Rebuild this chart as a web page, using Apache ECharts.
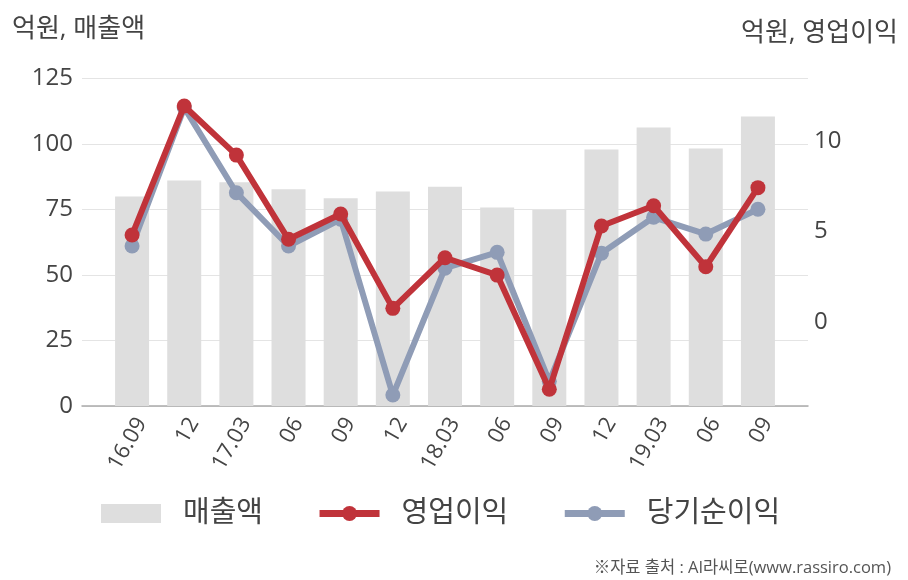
<!DOCTYPE html>
<html><head><meta charset="utf-8">
<script src="https://cdn.jsdelivr.net/npm/echarts@6/dist/echarts.min.js"></script>
<style>html,body{margin:0;padding:0;background:#fff}#c{width:908px;height:580px}</style>
</head><body><div id="c"></div>
<script>
const categories = ['16.09','12','17.03','06','09','12','18.03','06','09','12','19.03','06','09'];
const sales = [80.0, 86.1, 85.4, 82.7, 79.3, 81.9, 83.7, 75.8, 74.8, 97.9, 106.3, 98.3, 110.5];
const opProfit = [4.80, 11.94, 9.22, 4.56, 5.96, 0.74, 3.54, 2.58, -3.74, 5.30, 6.42, 3.04, 7.42];
const netProfit = [4.19, 11.85, 7.14, 4.19, 5.67, -4.06, 2.96, 3.84, -3.3, 3.79, 5.78, 4.85, 6.22];
const leftTicks = [0, 25, 50, 75, 100, 125];
const rightTicks = [0, 5, 10];

const FONT = '"Open Sans", "Noto Sans CJK KR", sans-serif';
const idx = categories.map((_, i) => i);
const chart = echarts.init(document.getElementById('c'), null, {renderer: 'canvas'});
chart.setOption({
  animation: false,
  backgroundColor: '#ffffff',
  textStyle: {fontFamily: FONT},
  title: [
    {text: '억원, 매출액', left: 7, top: 12, textStyle: {fontFamily: FONT, fontSize: 26, fontWeight: 'normal', color: '#444'}},
    {text: '억원, 영업이익', right: 5, top: 16, textStyle: {fontFamily: FONT, fontSize: 26, fontWeight: 'normal', color: '#444'}},
    {text: '※자료 출처 : AI라씨로(www.rassiro.com)', right: 12, top: 555, textStyle: {fontFamily: FONT, fontSize: 16.5, fontWeight: 'normal', color: '#555'}}
  ],
  legend: {
    left: 96, top: 494, itemWidth: 60, itemHeight: 19, itemGap: 53,
    textStyle: {fontFamily: FONT, fontSize: 29, color: '#444', padding: [0, 0, 0, 17]},
    data: [
      {name: '매출액', icon: 'rect'},
      {name: '영업이익', lineStyle: {width: 7}},
      {name: '당기순이익', lineStyle: {width: 7}}
    ]
  },
  grid: {left: 82, right: 100, top: 78.5, bottom: 174, containLabel: false},
  xAxis: {
    type: 'value', min: -0.96, max: categories.length - 1 + 0.96,
    axisLine: {show: true, lineStyle: {color: '#aaaaaa', width: 1.5}},
    axisTick: {show: false},
    splitLine: {show: false},
    axisLabel: {
      customValues: idx, rotate: 60, fontSize: 22, color: '#444', margin: 8, fontFamily: FONT,
      verticalAlign: 'top',
      formatter: v => categories[Math.round(v)]
    }
  },
  yAxis: [
    {type: 'value', min: 0, max: 125, interval: 25, position: 'left',
     axisLine: {show: false}, axisTick: {show: false},
     splitLine: {show: true, lineStyle: {color: '#e4e4e4', width: 1}},
     axisLabel: {fontSize: 24, color: '#444', margin: 9, fontFamily: FONT, customValues: leftTicks}},
    {type: 'value', min: -4.665, max: 13.46, position: 'right',
     axisLine: {show: false}, axisTick: {show: false}, splitLine: {show: false},
     axisLabel: {fontSize: 24, color: '#444', margin: 6, fontFamily: FONT, customValues: rightTicks}}
  ],
  series: [
    {name: '매출액', type: 'bar', yAxisIndex: 0, barWidth: 34,
     itemStyle: {color: '#dedede'},
     data: sales.map((v, i) => [i, v])},
    {name: '당기순이익', type: 'line', yAxisIndex: 1, z: 3,
     symbol: 'circle', symbolSize: 15, color: '#8f9cb6',
     lineStyle: {width: 6, color: '#8f9cb6'}, itemStyle: {color: '#8f9cb6'},
     data: netProfit.map((v, i) => [i, v])},
    {name: '영업이익', type: 'line', yAxisIndex: 1, z: 4,
     symbol: 'circle', symbolSize: 15, color: '#c0333a',
     lineStyle: {width: 6, color: '#c0333a'}, itemStyle: {color: '#c0333a'},
     data: opProfit.map((v, i) => [i, v])}
  ]
});
</script></body></html>
